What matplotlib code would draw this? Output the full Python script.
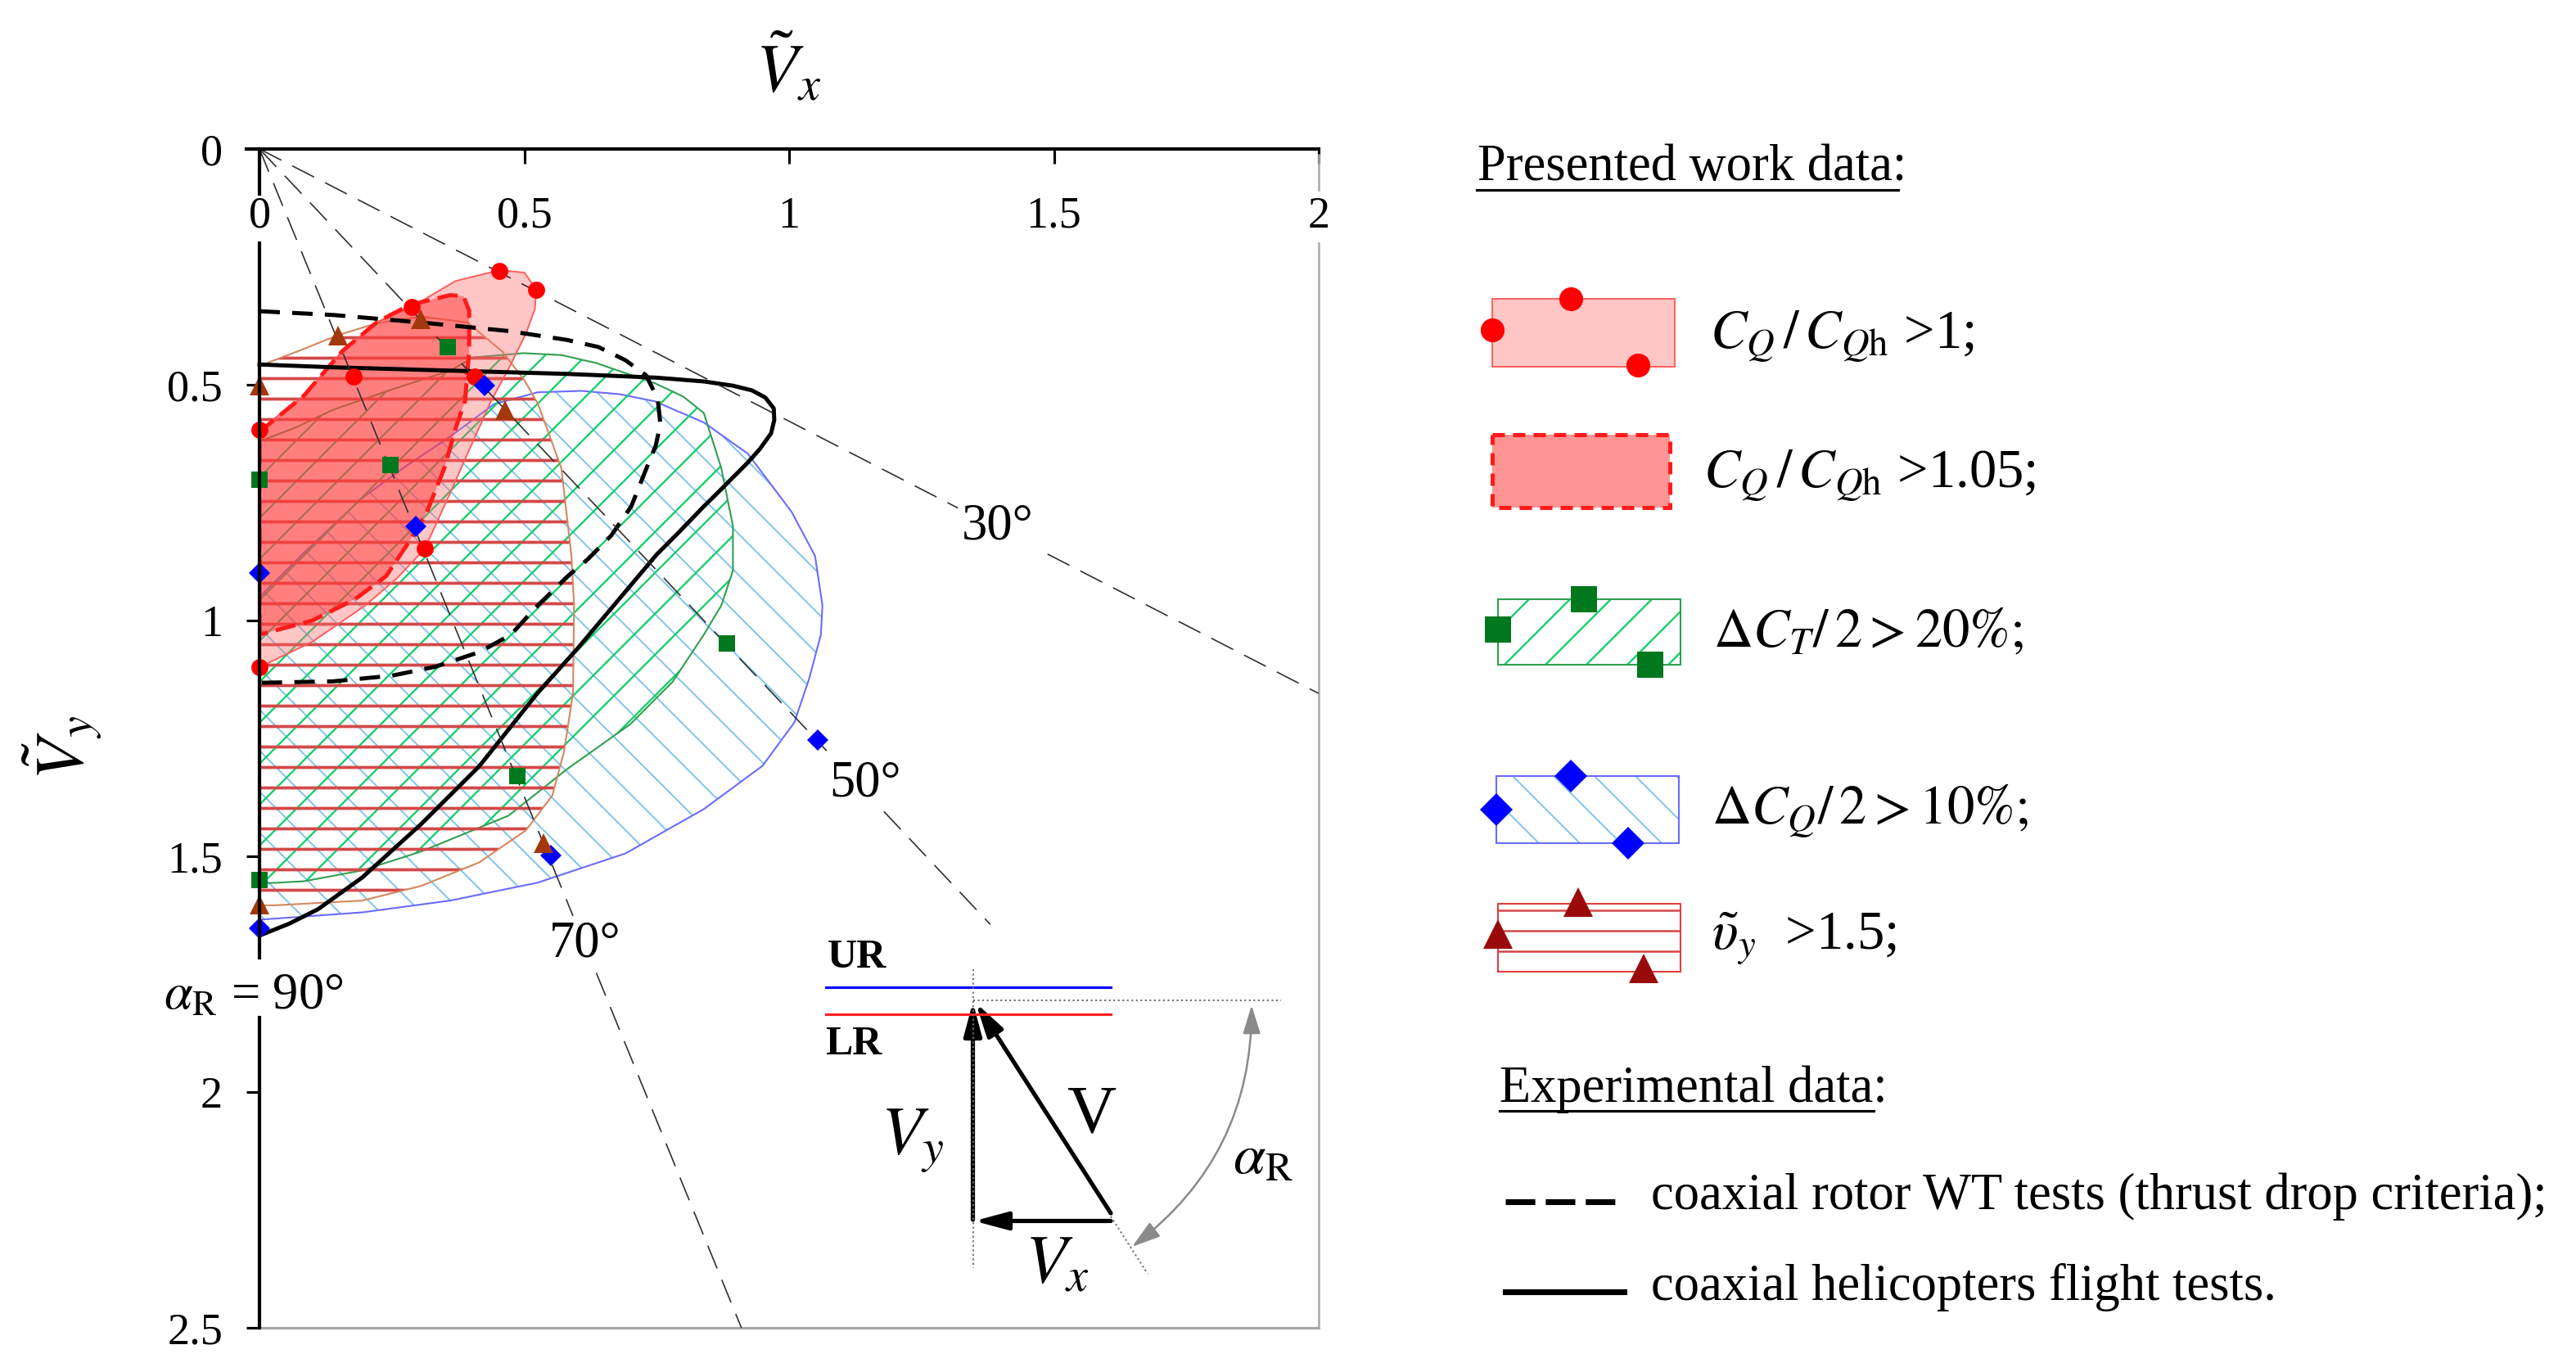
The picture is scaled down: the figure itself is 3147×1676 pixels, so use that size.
"""Coaxial rotor vortex ring state boundaries in (Vx, Vy) plane."""

import matplotlib

matplotlib.use("Agg")

import matplotlib.pyplot as plt
import numpy as np
from matplotlib.patches import FancyArrowPatch, Polygon, Rectangle

plt.rcParams["font.family"] = ["Liberation Serif", "DejaVu Serif"]
plt.rcParams["mathtext.fontset"] = "stix"

W, H, DPI = 3147, 1676, 150

# ---- data (Vx, Vy) ----
X_TICKS = [0.5, 1, 1.5, 2]
X_TICK_LABELS = ["0", "0.5", "1", "1.5", "2"]
Y_TICKS = [0, 0.5, 1, 1.5, 2, 2.5]
Y_TICK_LABELS = ["0", "0.5", "1", "1.5", "2", "2.5"]

ANGLES = [30, 50, 70]
ANGLE_SEGMENTS = {30: [(0, 1.319), (1.488, 2.0)],
                  50: [(0, 1.071), (1.179, 1.38)],
                  70: [(0, 0.592), (0.636, 0.91)]}
ANGLE_LABEL_POS = {30: (1.394, 0.802), 50: (1.143, 1.346), 70: (0.614, 1.687)}

# CQ/CQh > 1 (red circles)
CQ1_X = [0.453, 0.523, 0.287, 0.178, 0.407, 0.0, 0.312, 0.0]
CQ1_Y = [0.259, 0.298, 0.335, 0.482, 0.482, 0.596, 0.848, 1.099]
# dCT/2 > 20% (green squares)
CT20_X = [0.356, 0.248, 0.0, 0.883, 0.487, 0.0]
CT20_Y = [0.420, 0.670, 0.701, 1.048, 1.329, 1.551]
# dCQ/2 > 10% (blue diamonds)
CQ10_X = [0.425, 0.295, 0.0, 1.054, 0.551, 0.0]
CQ10_Y = [0.501, 0.800, 0.900, 1.253, 1.499, 1.652]
# vy > 1.5 (triangles)
VY_X = [0.148, 0.304, 0.0, 0.464, 0.536, 0.0]
VY_Y = [0.395, 0.361, 0.501, 0.553, 1.473, 1.603]

# region boundaries
CQ1_REG_X = [0.0, 0.0, 0.084, 0.156, 0.222, 0.287, 0.37, 0.453, 0.50, 0.523, 0.52,
             0.503, 0.47, 0.437, 0.393, 0.36, 0.312, 0.26, 0.20, 0.10]
CQ1_REG_Y = [1.099, 0.596, 0.523, 0.429, 0.367, 0.335, 0.28, 0.257, 0.262, 0.298, 0.34,
             0.392, 0.467, 0.535, 0.646, 0.73, 0.848, 0.91, 0.968, 1.045]
CQ105_REG_X = [0.0, 0.0, 0.084, 0.156, 0.222, 0.283, 0.36, 0.385, 0.396, 0.396, 0.388,
               0.371, 0.349, 0.316, 0.283, 0.239, 0.18, 0.10]
CQ105_REG_Y = [1.03, 0.60, 0.523, 0.429, 0.367, 0.331, 0.31, 0.312, 0.343, 0.429, 0.535,
               0.59, 0.677, 0.77, 0.832, 0.906, 0.955, 1.0]
CT20_REG_X = [0.0, 0.07, 0.139, 0.25, 0.36, 0.404, 0.498, 0.57, 0.636, 0.747, 0.80, 0.839,
              0.872, 0.894, 0.894, 0.872, 0.839, 0.78, 0.70, 0.581, 0.47, 0.305, 0.194,
              0.084, 0.0]
CT20_REG_Y = [0.62, 0.59, 0.553, 0.51, 0.47, 0.442, 0.433, 0.437, 0.454, 0.497, 0.525, 0.56,
              0.677, 0.80, 0.894, 0.968, 1.03, 1.13, 1.22, 1.315, 1.414, 1.49, 1.53,
              1.553, 1.558]
CQ10_REG_X = [0.0, 0.09, 0.194, 0.28, 0.36, 0.443, 0.525, 0.608, 0.68, 0.746, 0.839, 0.922,
              1.005, 1.049, 1.063, 1.06, 1.038, 1.01, 0.95, 0.839, 0.691, 0.525, 0.36,
              0.194, 0.007, 0.0]
CQ10_REG_Y = [0.95, 0.85, 0.74, 0.67, 0.61, 0.541, 0.516, 0.513, 0.52, 0.535, 0.58, 0.646,
              0.77, 0.863, 0.968, 1.03, 1.123, 1.216, 1.308, 1.40, 1.494, 1.556, 1.594,
              1.619, 1.634, 1.634]
VY_REG_X = [0.0, 0.07, 0.148, 0.22, 0.304, 0.393, 0.459, 0.50, 0.526, 0.57, 0.589, 0.594,
            0.592, 0.575, 0.553, 0.503, 0.415, 0.305, 0.194, 0.029, 0.0]
VY_REG_Y = [0.46, 0.43, 0.395, 0.37, 0.355, 0.368, 0.43, 0.49, 0.541, 0.677, 0.863, 0.968,
            1.154, 1.278, 1.371, 1.445, 1.513, 1.563, 1.594, 1.604, 1.604]

# experimental boundaries
WT_X = [0.0, 0.139, 0.305, 0.47, 0.581, 0.64, 0.691, 0.73, 0.752, 0.757, 0.748, 0.735,
        0.702, 0.664, 0.62, 0.581, 0.542, 0.52, 0.475, 0.415, 0.332, 0.25, 0.139, 0.007, 0.0]
WT_Y = [0.344, 0.352, 0.368, 0.386, 0.405, 0.42, 0.448, 0.48, 0.53, 0.584, 0.63, 0.665,
        0.758, 0.82, 0.87, 0.907, 0.95, 0.974, 1.03, 1.067, 1.098, 1.117, 1.129, 1.132, 1.132]
FT_X = [0.0, 0.139, 0.36, 0.581, 0.75, 0.839, 0.894, 0.93, 0.955, 0.971, 0.972, 0.966,
        0.945, 0.922, 0.867, 0.839, 0.79, 0.75, 0.669, 0.6, 0.525, 0.415, 0.305, 0.194,
        0.111, 0.056, 0.007, 0.0]
FT_Y = [0.457, 0.463, 0.47, 0.477, 0.485, 0.493, 0.502, 0.512, 0.527, 0.55, 0.575, 0.603,
        0.636, 0.665, 0.727, 0.758, 0.815, 0.86, 0.968, 1.06, 1.154, 1.309, 1.432, 1.545,
        1.612, 1.643, 1.665, 1.668]

RED = "#ff0000"
GREEN = "#00781e"
BLUE = "#0000ff"
BROWN = "#a3380c"


def hatched(axis, pts, hatch, hcolor, hlw, z, **kw):
    with plt.rc_context({"hatch.linewidth": hlw}):
        p = Polygon(pts, closed=True, facecolor="none", edgecolor=hcolor, linewidth=0,
                    hatch=hatch, zorder=z, **kw)
    if hasattr(p, "set_hatch_linewidth"):
        p.set_hatch_linewidth(hlw)
    axis.add_patch(p)
    return p


def outline(axis, pts, color, lw, z, ls="-"):
    axis.add_patch(Polygon(pts, closed=True, fill=False, edgecolor=color, linewidth=lw,
                           linestyle=ls, zorder=z))


fig = plt.figure(figsize=(W / DPI, H / DPI), dpi=DPI)
ax = fig.add_axes([317 / W, 1 - 1622 / H, 1294 / W, 1440 / H])
ax.set_xlim(0, 2)
ax.set_ylim(2.5, 0)
for s in ax.spines.values():
    s.set_visible(False)

ax.set_xticks(X_TICKS)
ax.tick_params(axis="x", top=True, bottom=False, labeltop=False, labelbottom=False,
               direction="in", length=8.6, width=1.5)
ax.set_yticks(Y_TICKS, Y_TICK_LABELS)
ax.tick_params(axis="y", direction="out", length=7.5, width=1.5, labelsize=26, pad=14)
for xv, lab in zip([0] + X_TICKS, X_TICK_LABELS):
    ax.text(xv, 0.143, lab, ha="center", va="center", fontsize=26)

# frame pieces
ax.plot([-0.025, 2], [0, 0], color="black", lw=2, clip_on=False, zorder=6)
for y0, y1 in [(0, 0.095), (0.2, 1.715), (1.842, 2.5)]:
    ax.plot([0, 0], [y0, y1], color="black", lw=2, clip_on=False, zorder=6)
for y0, y1 in [(0.013, 0.087), (0.199, 2.5)]:
    ax.plot([2, 2], [y0, y1], color="#a8a8a8", lw=1.2, clip_on=False)
ax.plot([0, 2], [2.5, 2.5], color="#a8a8a8", lw=1.5, clip_on=False)

# regions
pts_cq10 = np.column_stack([CQ10_REG_X, CQ10_REG_Y])
pts_ct20 = np.column_stack([CT20_REG_X, CT20_REG_Y])
pts_vy = np.column_stack([VY_REG_X, VY_REG_Y])
pts_cq1 = np.column_stack([CQ1_REG_X, CQ1_REG_Y])
pts_cq105 = np.column_stack([CQ105_REG_X, CQ105_REG_Y])

hatched(ax, pts_cq10, "\\", "#7cc3ec", 0.9, 1)
outline(ax, pts_cq10, "#6b6bff", 1.0, 1.1)
hatched(ax, pts_ct20, "/", "#12cf6a", 1.1, 1.2)
outline(ax, pts_ct20, "#30a050", 1.0, 1.3)
hatched(ax, pts_vy, "-", "#d44848", 1.8, 1.4)
outline(ax, pts_vy, "#d4875e", 1.0, 1.5)
ax.add_patch(Polygon(pts_cq1, closed=True, facecolor="#ff6a6a", alpha=0.38,
                     edgecolor="none", zorder=2))
outline(ax, pts_cq1, "#ff5a5a", 0.9, 2.1)
ax.add_patch(Polygon(pts_cq105, closed=True, facecolor="#ff2a2a", alpha=0.45,
                     edgecolor="none", zorder=2.2))
ax.add_patch(Polygon(pts_cq105, closed=True, fill=False, edgecolor="#ff1a1a", lw=2.4,
                     linestyle=(0, (5, 2)), zorder=2.3))

# experimental curves
ax.plot(WT_X, WT_Y, color="black", lw=2.4, linestyle=(0, (5, 3)), zorder=3, clip_on=False)
ax.plot(FT_X, FT_Y, color="black", lw=2.4, zorder=3, clip_on=False)

# rotor angle rays
for ang in ANGLES:
    t = np.tan(np.radians(ang))
    for x0, x1 in ANGLE_SEGMENTS[ang]:
        ax.plot([x0, x1], [x0 * t, x1 * t], color="#303030", lw=0.8,
                linestyle=(0, (18, 9)), zorder=3.5)
    lx, ly = ANGLE_LABEL_POS[ang]
    ax.text(lx, ly, f"{ang}°", ha="center", va="center", fontsize=30)

# markers
ax.plot(CQ1_X, CQ1_Y, "o", color=RED, ms=10, mec="none", zorder=5, clip_on=False)
ax.plot(CT20_X, CT20_Y, "s", color=GREEN, ms=9.5, mec="none", zorder=5, clip_on=False)
ax.plot(CQ10_X, CQ10_Y, "D", color=BLUE, ms=8.5, mec="none", zorder=5, clip_on=False)
ax.plot(VY_X, VY_Y, "^", color=BROWN, ms=11.5, mec="none", zorder=5, clip_on=False)

# ---- overlay in pixel coordinates: labels, legend, sketch ----
ov = fig.add_axes([0, 0, 1, 1])
ov.set_xlim(0, W)
ov.set_ylim(H, 0)
ov.axis("off")
ov.patch.set_alpha(0)

ov.text(963, 84, r"$\tilde{V}_x$", ha="center", va="center", fontsize=40)
ov.text(76, 913, r"$\tilde{V}_y$", ha="center", va="center", fontsize=40, rotation=90)
ov.text(310, 1218, r"$\alpha_\mathrm{R}$ = 90°", ha="center", va="center", fontsize=30)

# legend
ov.text(1805, 205, "Presented work data:", ha="left", va="center", fontsize=30)
ov.plot([1804, 2319], [232, 232], color="black", lw=1.5)

ov.add_patch(Rectangle((1823, 365), 223, 83, facecolor="#ff6a6a", alpha=0.38,
                       edgecolor="none"))
ov.add_patch(Rectangle((1823, 365), 223, 83, fill=False, edgecolor="#ff5a5a", lw=0.9))
ov.plot([1823, 1919, 2001], [403, 365, 446], "o", color=RED, ms=14, mec="none")
ov.text(2089, 410, r"$C_Q\,/\,C_{Q\mathrm{h}}$ >1;", ha="left", va="center", fontsize=32)

ov.add_patch(Rectangle((1823, 531), 217, 89, facecolor="#ff2a2a", alpha=0.5,
                       edgecolor="none"))
ov.add_patch(Rectangle((1823, 531), 217, 89, fill=False, edgecolor="#ff1a1a", lw=2.4,
                       linestyle=(0, (3, 2))))
ov.text(2081, 580, r"$C_Q\,/\,C_{Q\mathrm{h}}$ >1.05;", ha="left", va="center", fontsize=32)

box3 = np.array([[1830, 732], [2053, 732], [2053, 812], [1830, 812]])
hatched(ov, box3, "/", "#12cf6a", 1.1, 1)
outline(ov, box3, "#30a050", 1.0, 1.1)
ov.plot([1830, 1935, 2016], [769, 732, 812], "s", color=GREEN, ms=15, mec="none", zorder=3)
ov.text(2093, 774, r"$\Delta C_T/\,2 > 20\%;$", ha="left", va="center", fontsize=32)

box4 = np.array([[1828, 948], [2051, 948], [2051, 1030], [1828, 1030]])
hatched(ov, box4, "\\", "#7cc3ec", 0.9, 1)
outline(ov, box4, "#6b6bff", 1.0, 1.1)
ov.plot([1828, 1919, 1989], [989, 948, 1030], "D", color=BLUE, ms=13.5, mec="none", zorder=3)
ov.text(2091, 990, r"$\Delta C_Q/\,2 > 10\%;$", ha="left", va="center", fontsize=32)

box5 = np.array([[1830, 1104], [2053, 1104], [2053, 1187], [1830, 1187]])
hatched(ov, box5, "-", "#d44848", 1.2, 1)
outline(ov, box5, "#e04040", 1.0, 1.1)
ov.plot([1830, 1928, 2008], [1141, 1102, 1183], "^", color="#9b0a0a", ms=17, mec="none",
        zorder=3)
ov.text(2091, 1147, r"$\tilde{\upsilon}_y$  >1.5;", ha="left", va="center", fontsize=32)

ov.text(1832, 1331, "Experimental data:", ha="left", va="center", fontsize=30)
ov.plot([1832, 2289], [1357, 1357], color="black", lw=1.5)
ov.plot([1839, 1973], [1468, 1468], color="black", lw=3.4, linestyle=(0, (5.1, 1.8)))
ov.text(2017, 1462, "coaxial rotor WT tests (thrust drop criteria);", ha="left",
        va="center", fontsize=30)
ov.plot([1839, 1984], [1578, 1578], color="black", lw=3.4)
ov.text(2017, 1573, "coaxial helicopters flight tests.", ha="left", va="center", fontsize=30)

# velocity sketch
ov.plot([1009, 1357], [1206, 1206], color="#0000ff", lw=1.5)
ov.plot([1009, 1357], [1239, 1239], color="#ff2020", lw=1.5)
ov.text(1047, 1170, "UR", ha="center", va="center", fontsize=24, fontweight="bold")
ov.text(1043, 1276, "LR", ha="center", va="center", fontsize=24, fontweight="bold")
ov.plot([1188.5, 1188.5], [1184, 1549], color="#707070", lw=1.0, linestyle=":")
ov.plot([1188.5, 1565], [1222, 1222], color="#707070", lw=1.0, linestyle=":")
ov.plot([1357, 1402], [1486, 1556], color="#707070", lw=1.0, linestyle=":")
for a, b in [((1188.5, 1490), (1188.5, 1224)), ((1357, 1482), (1192, 1225)),
             ((1357, 1491.5), (1190, 1491.5))]:
    ov.add_patch(FancyArrowPatch(a, b, arrowstyle="-|>,head_length=1.5,head_width=0.4",
                                 mutation_scale=11, color="black", lw=2.5,
                                 shrinkA=0, shrinkB=0))
ov.add_patch(FancyArrowPatch((1529, 1228), (1383, 1523),
                             arrowstyle="<|-|>,head_length=1.3,head_width=0.4",
                             connectionstyle="arc3,rad=-0.25", mutation_scale=11,
                             color="#8a8a8a", lw=1.2, shrinkA=0, shrinkB=0))
ov.text(1333, 1363, "V", ha="center", va="center", fontsize=40)
ov.text(1115, 1394, r"$V_y$", ha="center", va="center", fontsize=40)
ov.text(1292, 1547, r"$V_x$", ha="center", va="center", fontsize=40)
ov.text(1543, 1416, r"$\alpha_\mathrm{R}$", ha="center", va="center", fontsize=34)

fig.savefig("out.png", dpi=DPI, facecolor="white")
